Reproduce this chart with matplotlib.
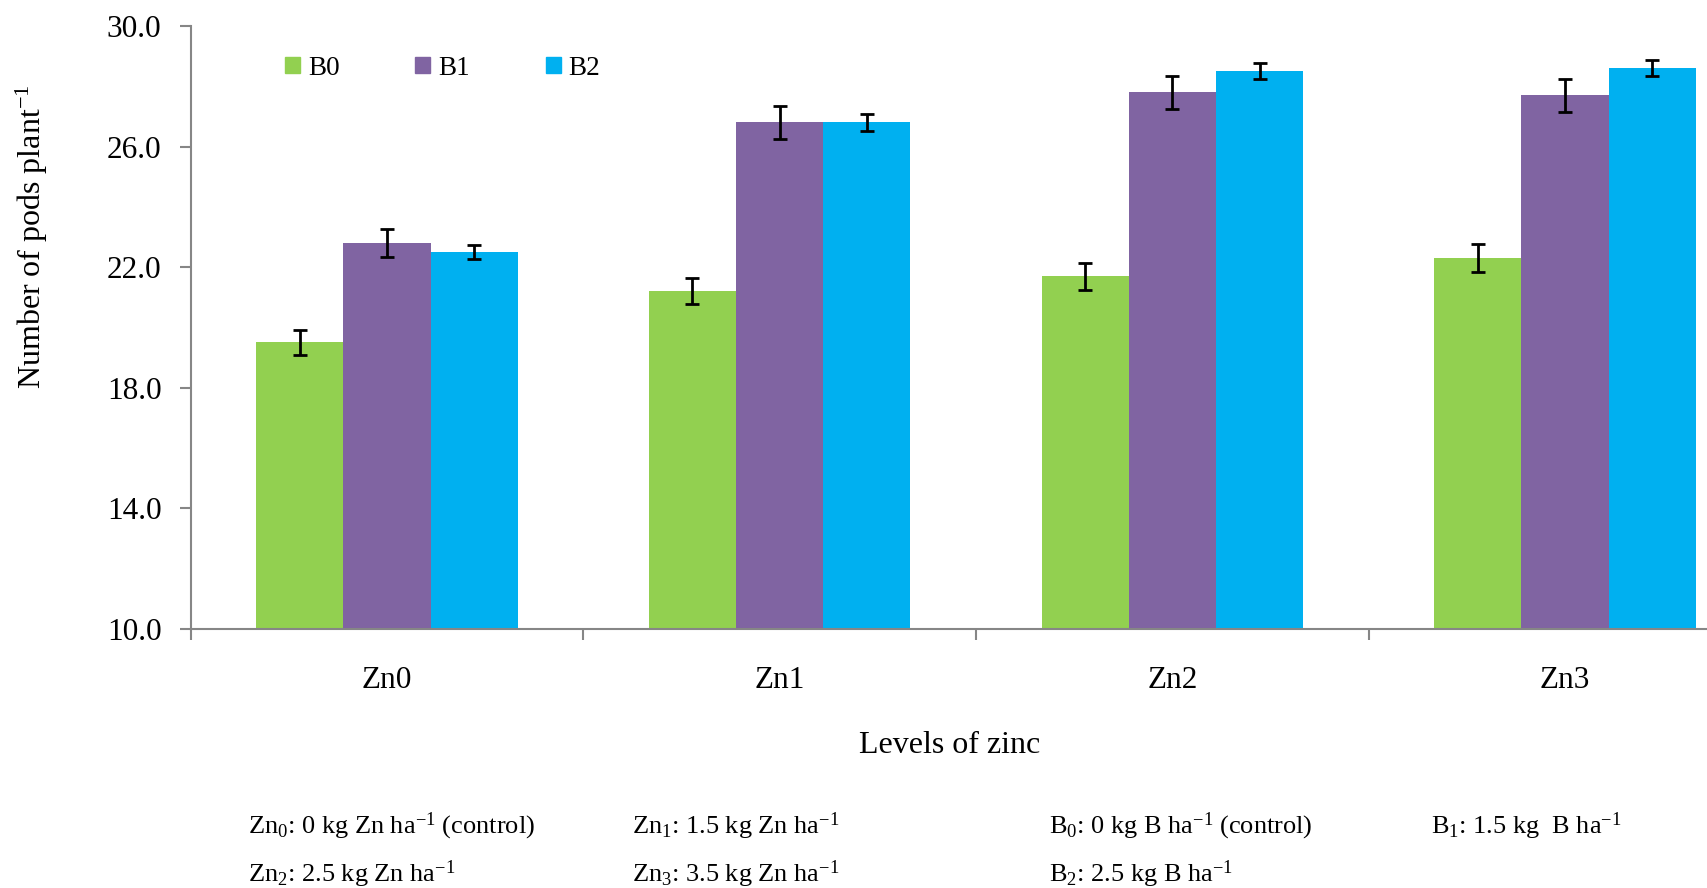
import numpy as np
import matplotlib.pyplot as plt
from matplotlib.patches import Patch

plt.rcParams['font.family'] = ['Liberation Serif', 'DejaVu Serif']
plt.rcParams['mathtext.fontset'] = 'custom'
plt.rcParams['mathtext.rm'] = 'Liberation Serif'
plt.rcParams['mathtext.it'] = 'Liberation Serif:italic'

zinc = ['Zn0', 'Zn1', 'Zn2', 'Zn3']
boron = ['B0', 'B1', 'B2']
b0 = [19.5, 21.2, 21.7, 22.3]
b1 = [22.8, 26.8, 27.8, 27.7]
b2 = [22.5, 26.8, 28.5, 28.6]
b0_err = [0.42, 0.42, 0.45, 0.45]
b1_err = [0.47, 0.54, 0.54, 0.54]
b2_err = [0.22, 0.27, 0.27, 0.27]
colors = ['#92D050', '#8064A2', '#00B0F0']

fig = plt.figure(figsize=(17.08, 8.88), dpi=100)
ax = fig.add_axes([0.1116, 0.2922, 0.8884, 0.6785])

x = np.arange(len(zinc))
w = 0.222
for i, (vals, errs) in enumerate(zip([b0, b1, b2], [b0_err, b1_err, b2_err])):
    ax.bar(x + (i - 1) * w, vals, w, color=colors[i], label=boron[i],
           yerr=errs, error_kw=dict(ecolor='black', elinewidth=2, capsize=5, capthick=2))

ax.set_yticks([10, 14, 18, 22, 26, 30])
ax.set_yticklabels(['%.1f' % v for v in [10, 14, 18, 22, 26, 30]], fontsize=22.5)
ax.set_xticks(x)
ax.set_xticklabels(zinc, fontsize=22.5)
ax.set_xticks([-0.5, 0.5, 1.5, 2.5], minor=True)
ax.tick_params(axis='x', which='major', length=0, pad=27)
ax.tick_params(axis='x', which='minor', length=8, width=1.5, color='#868686')
ax.tick_params(axis='y', length=8, width=1.5, color='#868686', pad=13)
# the last group runs off the right edge
ax.set_ylim(10, 30)
ax.set_xlim(-0.5, 3.364)

for s in ['top', 'right']:
    ax.spines[s].set_visible(False)
for s in ['left', 'bottom']:
    ax.spines[s].set_color('#868686')
    ax.spines[s].set_linewidth(1.5)

ax.set_xlabel('Levels of zinc', fontsize=23, labelpad=26)
fig.text(0.0185, 0.733, 'Number of pods plant$^{-1}$', rotation=90,
         fontsize=23, ha='center', va='center')

handles = [Patch(color=c) for c in colors]
ax.legend(handles, boron, loc='center left', bbox_to_anchor=(0.046, 0.93), ncol=3,
          frameon=False, fontsize=19.5, handlelength=0.55, handleheight=0.55,
          handletextpad=0.3, columnspacing=2.8)

notes = [
    (0.145, 0.069, 'Zn$_0$: 0 kg Zn ha$^{-1}$ (control)'),
    (0.370, 0.069, 'Zn$_1$: 1.5 kg Zn ha$^{-1}$'),
    (0.614, 0.069, 'B$_0$: 0 kg B ha$^{-1}$ (control)'),
    (0.838, 0.069, 'B$_1$: 1.5 kg  B ha$^{-1}$'),
    (0.145, 0.016, 'Zn$_2$: 2.5 kg Zn ha$^{-1}$'),
    (0.370, 0.016, 'Zn$_3$: 3.5 kg Zn ha$^{-1}$'),
    (0.614, 0.016, 'B$_2$: 2.5 kg B ha$^{-1}$'),
]
for nx, ny, t in notes:
    fig.text(nx, ny, t, fontsize=19, ha='left', va='center')

fig.savefig('out.png', dpi=100)
